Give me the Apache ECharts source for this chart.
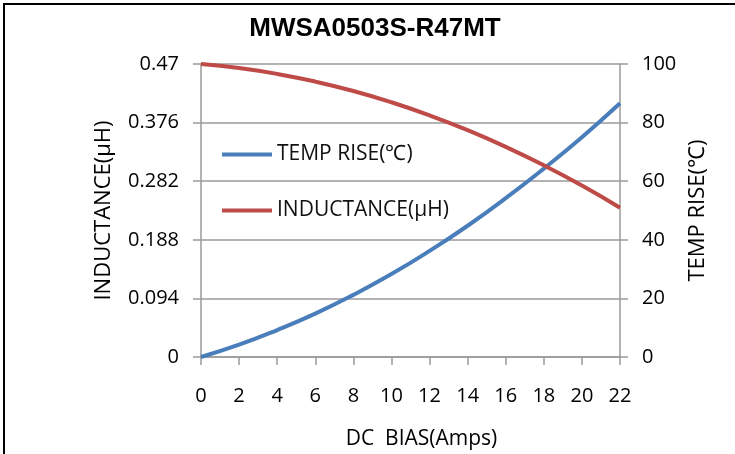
<!DOCTYPE html>
<html>
<head>
<meta charset="utf-8">
<title>MWSA0503S-R47MT</title>
<script src="https://cdn.jsdelivr.net/npm/echarts@6/dist/echarts.min.js"></script>
<style>
    html, body {
        margin: 0;
        padding: 0;
        background: #fff;
    }

    .chart {
        position: absolute;
        left: 0;
        top: 0;
        width: 735px;
        height: 454px;
    }

    .frame {
        position: absolute;
        left: 3px;
        top: 3px;
        width: 740px;
        height: 460px;
        border-top: 2px solid #000;
        border-left: 2px solid #000;
        pointer-events: none;
    }
</style>
</head>
<body>
<div id="chart" class="chart"></div>
<div class="frame"></div>
<script>
// DC bias (A) and the two curves
const amps = [0, 2, 4, 6, 8, 10, 12, 14, 16, 18, 20, 22]
const tempRise = [0, 4.2, 9.2, 14.8, 21.2, 28.3, 36.2, 44.8, 54.2, 64.3, 75.0, 86.6]
const inductance = [0.470, 0.4635, 0.4541, 0.4418, 0.4267, 0.4086, 0.3876, 0.3638, 0.3371, 0.3075, 0.275, 0.2395]

const inductTicks = [0, 0.094, 0.188, 0.282, 0.376, 0.47]

const labelFont = 'Open Sans'
const gridColor = '#9a9a9a'

const chart = echarts.init(document.getElementById('chart'))

const option = {
    animation: false,
    title: {
        text: 'MWSA0503S-R47MT',
        left: 370,
        top: 11,
        textAlign: 'center',
        textStyle: {
            fontFamily: 'Liberation Sans',
            fontWeight: 'bold',
            fontSize: 26,
            color: '#000'
        }
    },
    legend: {
        orient: 'vertical',
        left: 217,
        top: 139,
        itemWidth: 50,
        itemHeight: 4,
        itemGap: 35,
        icon: 'rect',
        data: ['TEMP RISE(℃)', 'INDUCTANCE(μH)'],
        textStyle: {
            fontFamily: labelFont,
            fontSize: 21,
            color: '#111'
        }
    },
    grid: {
        left: 201,
        right: 115,
        top: 64,
        bottom: 97,
        outerBoundsMode: 'none'
    },
    xAxis: {
        type: 'value',
        min: 0,
        max: 22,
        interval: 2,
        name: 'DC  BIAS(Amps)',
        nameLocation: 'middle',
        nameGap: 72,
        nameTextStyle: {
            fontFamily: labelFont,
            fontSize: 21,
            color: '#000',
            padding: [0, 0, 0, 22]
        },
        axisLine: { lineStyle: { color: gridColor, width: 1.5 } },
        axisTick: { length: 8, lineStyle: { color: gridColor, width: 1.5 } },
        axisLabel: {
            margin: 29,
            fontFamily: labelFont,
            fontSize: 20,
            color: '#000'
        },
        splitLine: { show: false }
    },
    yAxis: [
        {
            type: 'value',
            position: 'left',
            min: 0,
            max: 0.47,
            interval: 0.094,
            name: 'INDUCTANCE(μH)',
            nameLocation: 'middle',
            nameRotate: 90,
            nameGap: 86,
            nameTextStyle: {
                fontFamily: labelFont,
                fontSize: 22,
                color: '#000'
            },
            axisLine: { show: true, lineStyle: { color: gridColor, width: 1.5 } },
            axisTick: { show: true, length: 8, lineStyle: { color: gridColor, width: 1.5 } },
            axisLabel: {
                margin: 22,
                fontFamily: labelFont,
                fontSize: 20,
                color: '#000',
                formatter: (v) => {
                    const near = inductTicks.find((t) => Math.abs(t - v) < 1e-6)
                    return near === undefined ? '' : String(near)
                }
            },
            splitLine: { show: true, lineStyle: { color: gridColor, width: 1.5 } }
        },
        {
            type: 'value',
            position: 'right',
            min: 0,
            max: 100,
            interval: 20,
            name: 'TEMP RISE(℃)',
            nameLocation: 'middle',
            nameRotate: 90,
            nameGap: 63,
            nameTextStyle: {
                fontFamily: labelFont,
                fontSize: 22,
                color: '#000'
            },
            axisLine: { show: true, lineStyle: { color: gridColor, width: 1.5 } },
            axisTick: { show: true, length: 8, lineStyle: { color: gridColor, width: 1.5 } },
            axisLabel: {
                margin: 22,
                fontFamily: labelFont,
                fontSize: 20,
                color: '#000'
            },
            splitLine: { show: false }
        }
    ],
    series: [
        {
            name: 'TEMP RISE(℃)',
            type: 'line',
            yAxisIndex: 1,
            smooth: true,
            showSymbol: false,
            lineStyle: { color: '#4a7ebb', width: 4 },
            itemStyle: { color: '#4a7ebb' },
            data: amps.map((a, i) => [a, tempRise[i]])
        },
        {
            name: 'INDUCTANCE(μH)',
            type: 'line',
            yAxisIndex: 0,
            smooth: true,
            showSymbol: false,
            lineStyle: { color: '#be4b48', width: 4 },
            itemStyle: { color: '#be4b48' },
            data: amps.map((a, i) => [a, inductance[i]])
        }
    ]
}

chart.setOption(option)
</script>
</body>
</html>
